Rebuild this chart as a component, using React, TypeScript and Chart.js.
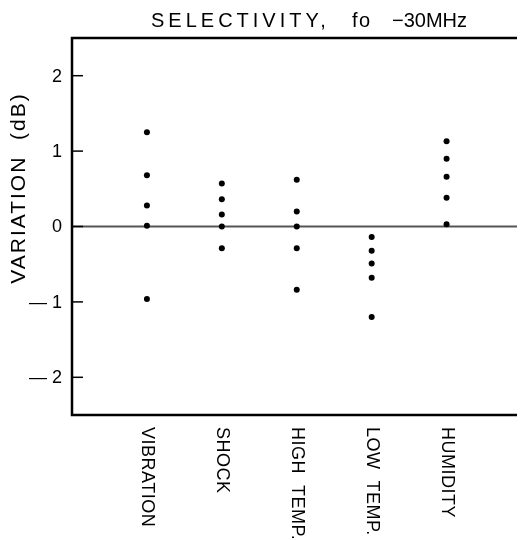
import { useEffect, useRef } from 'react';
import { Chart, registerables } from 'chart.js';

Chart.register(...registerables);

// ---- data ----
const categories = ['VIBRATION', 'SHOCK', 'HIGH  TEMP.', 'LOW  TEMP.', 'HUMIDITY'];
const vibration = [1.25, 0.68, 0.28, 0.01, -0.96];
const shock = [0.57, 0.36, 0.16, 0.0, -0.29];
const highTemp = [0.62, 0.2, 0.0, -0.29, -0.84];
const lowTemp = [-0.14, -0.32, -0.49, -0.68, -1.2];
const humidity = [1.13, 0.9, 0.66, 0.38, 0.03];
const seriesValues = [vibration, shock, highTemp, lowTemp, humidity];
const yTicks = [2, 1, 0, -1, -2];
const yTickLabels = ['2', '1', '0', '— 1', '— 2'];
const titleParts = ['SELECTIVITY,', 'fo', '−30MHz'];
const yTitle = 'VARIATION  (dB)';

const FONT = "'Liberation Sans', Arial, sans-serif";

const framePlugin = {
  id: 'frame',
  beforeDatasetsDraw(chart: any) {
    const { ctx, chartArea: a, scales } = chart;
    const y = scales.y;
    ctx.save();
    // zero line
    const y0 = y.getPixelForValue(0);
    ctx.strokeStyle = '#555';
    ctx.lineWidth = 2;
    ctx.beginPath();
    ctx.moveTo(a.left, y0);
    ctx.lineTo(a.right, y0);
    ctx.stroke();
    // axes
    ctx.strokeStyle = '#000';
    ctx.lineWidth = 2.5;
    ctx.beginPath();
    ctx.moveTo(a.right, a.top);
    ctx.lineTo(a.left, a.top);
    ctx.lineTo(a.left, a.bottom);
    ctx.lineTo(a.right, a.bottom);
    ctx.stroke();
    // inward ticks
    ctx.lineWidth = 1.5;
    yTicks.forEach((v) => {
      const py = y.getPixelForValue(v);
      ctx.beginPath();
      ctx.moveTo(a.left, py);
      ctx.lineTo(a.left + 11, py);
      ctx.stroke();
    });
    ctx.restore();
  },
  afterDraw(chart: any) {
    const { ctx, chartArea: a, scales } = chart;
    const x = scales.x;
    const y = scales.y;
    ctx.save();
    ctx.fillStyle = '#000';
    // y tick labels
    ctx.font = `18px ${FONT}`;
    ctx.textAlign = 'right';
    ctx.textBaseline = 'middle';
    yTicks.forEach((v, i) => {
      ctx.fillText(yTickLabels[i], a.left - 10, y.getPixelForValue(v) + 1);
    });
    // x category labels, rotated clockwise
    ctx.font = `18px ${FONT}`;
    (ctx as any).letterSpacing = '0.5px';
    ctx.textAlign = 'left';
    ctx.textBaseline = 'middle';
    categories.forEach((c, i) => {
      const px = x.getPixelForValue(i + 1);
      ctx.save();
      ctx.translate(px, a.bottom + 12);
      ctx.rotate(Math.PI / 2);
      ctx.fillText(c, 0, 0);
      ctx.restore();
    });
    // y title
    ctx.save();
    ctx.font = `21px ${FONT}`;
    (ctx as any).letterSpacing = '2px';
    ctx.textAlign = 'center';
    ctx.textBaseline = 'middle';
    ctx.translate(19, 188);
    ctx.rotate(-Math.PI / 2);
    ctx.fillText(yTitle, 0, 0);
    ctx.restore();
    // title
    ctx.font = `20px ${FONT}`;
    ctx.textAlign = 'left';
    ctx.textBaseline = 'alphabetic';
    (ctx as any).letterSpacing = '4px';
    ctx.fillText(titleParts[0], 151, 27);
    (ctx as any).letterSpacing = '1.5px';
    ctx.fillText(titleParts[1], 352, 27);
    (ctx as any).letterSpacing = '0px';
    ctx.fillText(titleParts[2], 392, 27);
    ctx.restore();
  },
};

export default function App() {
  const ref = useRef<HTMLCanvasElement | null>(null);
  useEffect(() => {
    if (!ref.current) return;
    const points = seriesValues.flatMap((vals, i) => vals.map((v) => ({ x: i + 1, y: v })));
    const chart = new Chart(ref.current, {
      type: 'scatter',
      data: {
        datasets: [
          {
            data: points,
            pointRadius: 3,
            pointHoverRadius: 3,
            backgroundColor: '#000',
            borderWidth: 0,
          },
        ],
      },
      options: {
        animation: false,
        responsive: false,
        devicePixelRatio: 1,
        layout: { padding: { left: 72, top: 38, right: 0, bottom: 125 } },
        scales: {
          x: { type: 'linear', min: 0, max: 5.94, display: false },
          y: { type: 'linear', min: -2.5, max: 2.5, display: false },
        },
        plugins: { legend: { display: false }, tooltip: { enabled: false }, title: { display: false } },
      },
      plugins: [framePlugin],
    });
    return () => chart.destroy();
  }, []);
  return (
    <div style={{ position: 'absolute', left: 0, top: 0, width: 520, height: 540, background: '#fff' }}>
      <canvas ref={ref} width={520} height={540} />
    </div>
  );
}
